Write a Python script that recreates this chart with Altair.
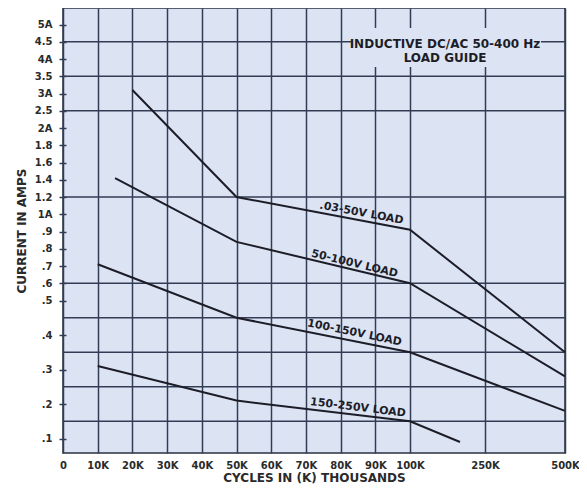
import altair as alt
import pandas as pd

# ---------------- data ----------------
x_tick_values = [0, 10, 20, 30, 40, 50, 60, 70, 80, 90, 100, 250, 500]
x_tick_labels = ["0", "10K", "20K", "30K", "40K", "50K", "60K", "70K", "80K",
                 "90K", "100K", "250K", "500K"]

y_tick_values = [0.1, 0.2, 0.3, 0.4, 0.5, 0.6, 0.7, 0.8, 0.9, 1.0, 1.2, 1.4,
                 1.6, 1.8, 2.0, 2.5, 3.0, 3.5, 4.0, 4.5, 5.0]
y_tick_labels = [".1", ".2", ".3", ".4", ".5", ".6", ".7", ".8", ".9", "1A",
                 "1.2", "1.4", "1.6", "1.8", "2A", "2.5", "3A", "3.5", "4A",
                 "4.5", "5A"]
y_grid_values = [0.15, 0.25, 0.35, 0.45, 0.6, 1.2, 2.5, 3.5, 4.5]

series_names = [".03-50V LOAD", "50-100V LOAD", "100-150V LOAD", "150-250V LOAD"]
series_x = [[20, 50, 100, 500], [15, 50, 100, 500], [10, 50, 100, 500], [10, 50, 100, 200]]
series_y = [[3.1, 1.2, 0.91, 0.35], [1.42, 0.84, 0.6, 0.28],
            [0.71, 0.45, 0.35, 0.18], [0.31, 0.21, 0.15, 0.09]]

label_x = [86, 84, 84, 85]
label_y = [1.012, 0.712, 0.406, 0.189]
label_angle = [10.5, 13.5, 11.5, 7]

title_lines = ["INDUCTIVE DC/AC 50-400 Hz", "LOAD GUIDE"]
title_x = [170, 170]
title_y = [4.44, 4.03]
box_x = [83]
box_x2 = [425]
box_y = [4.9]
box_y2 = [3.77]

# ---------------- tables ----------------
rows = []
for name, xs, ys in zip(series_names, series_x, series_y):
    for i, (xv, yv) in enumerate(zip(xs, ys)):
        rows.append({"series": name, "x": xv, "y": yv, "order": i})
lines_df = pd.DataFrame(rows)
labels_df = pd.DataFrame({"text": series_names, "x": label_x, "y": label_y, "angle": label_angle})
grid_df = pd.DataFrame({"y": y_grid_values})
title_df = pd.DataFrame({"text": title_lines, "x": title_x, "y": title_y})
box_df = pd.DataFrame({"x": box_x, "x2": box_x2, "y": box_y, "y2": box_y2})

W, H = 502, 445
xscale = alt.Scale(domain=[0, 100, 250, 500], range=[0, 347, 422, W], nice=False, zero=False)
yscale = alt.Scale(domain=[0.058, 0.5, 1, 2, 5.48], range=[H, 292.5, 206.25, 120, 0],
                   nice=False, zero=False)

x_expr = " : ".join(f"datum.value == {v} ? '{l}'" for v, l in zip(x_tick_values, x_tick_labels)) + " : ''"
y_expr = " : ".join(f"datum.value == {v} ? '{l}'" for v, l in zip(y_tick_values, y_tick_labels)) + " : ''"

GRID = "#333c55"
INK = "#1d1d28"
FONT = "DejaVu Sans"
BG = "#dce4f4"

x_axis = alt.Axis(values=x_tick_values, labelExpr=x_expr, title="CYCLES IN (K) THOUSANDS",
                  grid=True, gridColor=GRID, gridWidth=1.5, gridOpacity=1,
                  ticks=False, domain=False, labelPadding=7, labelFlush=False,
                  labelOverlap=False, labelFont=FONT, labelFontWeight="bold",
                  labelFontSize=10, labelColor="#2a2a2a",
                  titleFont=FONT, titleFontWeight="bold", titleFontSize=12,
                  titleColor="#2a2a2a", titlePadding=2)
y_axis = alt.Axis(values=y_tick_values, labelExpr=y_expr, title="CURRENT IN AMPS",
                  grid=False, domain=False, offset=-3, tickSize=7, tickWidth=1.5,
                  tickColor=GRID, labelPadding=7, labelFlush=False, labelOverlap=False,
                  labelFont=FONT, labelFontWeight="bold", labelFontSize=10,
                  labelColor="#2a2a2a", titleFont=FONT, titleFontWeight="bold",
                  titleFontSize=12, titleColor="#2a2a2a", titlePadding=6)


def X(field):
    return alt.X(field, type="quantitative", scale=xscale, axis=x_axis)


def Y(field):
    return alt.Y(field, type="quantitative", scale=yscale, axis=y_axis)


lines = alt.Chart(lines_df).mark_line(color=INK, strokeWidth=2).encode(
    x=X("x"), y=Y("y"), detail="series:N", order="order:Q",
)

hgrid = alt.Chart(grid_df).mark_rule(color=GRID, strokeWidth=1.5).encode(y=Y("y"))

box = alt.Chart(box_df).mark_rect(color=BG).encode(
    x=X("x"), x2="x2", y=Y("y"), y2="y2",
)

labels = alt.Chart(labels_df).mark_text(font=FONT, fontWeight="bold", fontSize=11,
                                        color=INK, align="center", baseline="middle").encode(
    x=X("x"), y=Y("y"),
    angle=alt.Angle("angle:Q", scale=None),
    text="text:N",
)

title_txt = alt.Chart(title_df).mark_text(font=FONT, fontWeight="bold", fontSize=12,
                                          color=INK, align="center", baseline="middle").encode(
    x=X("x"), y=Y("y"), text="text:N",
)

chart = alt.layer(hgrid, box, lines, labels, title_txt).properties(
    width=W, height=H,
    autosize=alt.AutoSizeParams(type="none"),
    padding={"left": 55, "top": 0, "right": 14, "bottom": 31},
    background="white",
).configure_view(fill=BG, stroke="#2a3040", strokeWidth=1.5)

chart.save("out.html", embed_options={"renderer": "svg", "actions": False})
